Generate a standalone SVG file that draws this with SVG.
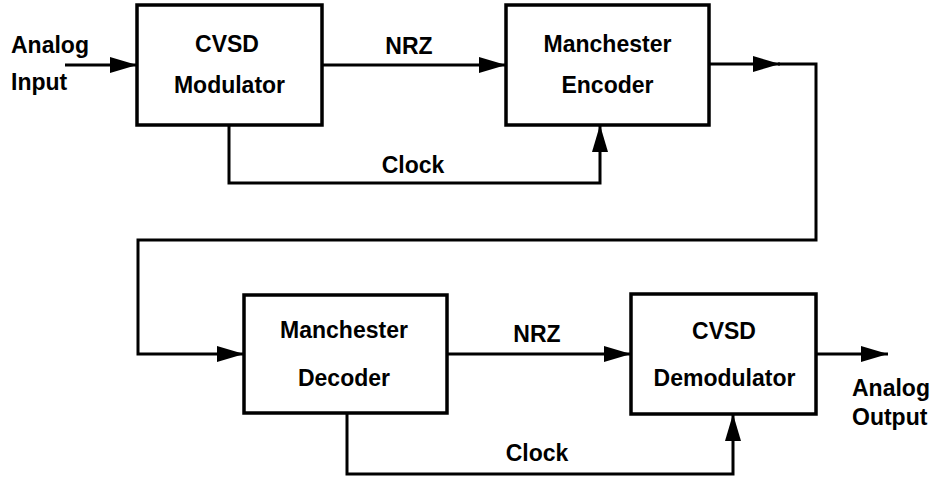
<svg xmlns="http://www.w3.org/2000/svg" width="936" height="479" viewBox="0 0 936 479">
<style>
.box{fill:#fff;stroke:#000;stroke-width:3.5}
.ln{fill:none;stroke:#000;stroke-width:3}
.t{font-family:"Liberation Sans",Arial,sans-serif;font-weight:bold;font-size:23px;fill:#000}
.c{text-anchor:middle}
</style>
<defs>
<marker id="ah" markerUnits="userSpaceOnUse" markerWidth="30" markerHeight="18" refX="27" refY="8" orient="auto">
<path d="M0,0 L27,8 L0,16 z" fill="#000"/>
</marker>
</defs>
<rect width="936" height="479" fill="#fff"/>
<g id="connectors">
<path class="ln" d="M65,65 H137" marker-end="url(#ah)"/>
<path class="ln" d="M322,65 H506" marker-end="url(#ah)"/>
<path class="ln" d="M229,125 V183 H600 V125" marker-end="url(#ah)"/>
<path class="ln" d="M709,64 H780" marker-end="url(#ah)"/>
<path class="ln" d="M778,64 H816 V240 H138 V354 H244" marker-end="url(#ah)"/>
<path class="ln" d="M447,354 H631" marker-end="url(#ah)"/>
<path class="ln" d="M347,413 V474 H733 V414" marker-end="url(#ah)"/>
<path class="ln" d="M816,354 H888" marker-end="url(#ah)"/>
<text class="t" x="11" y="53">Analog</text>
<text class="t" x="11" y="90">Input</text>
<text class="t c" x="409" y="54">NRZ</text>
<text class="t c" x="413" y="173">Clock</text>
<text class="t c" x="537" y="342">NRZ</text>
<text class="t c" x="537" y="461">Clock</text>
<text class="t" x="852" y="396">Analog</text>
<text class="t" x="852" y="425">Output</text>
</g>
<g id="cvsd-modulator">
<rect class="box" x="137" y="5" width="185" height="120"/>
<text class="t c" x="227" y="52">CVSD</text>
<text class="t c" x="229.5" y="93">Modulator</text>
</g>
<g id="manchester-encoder">
<rect class="box" x="506" y="5" width="203" height="120"/>
<text class="t c" x="607.5" y="52">Manchester</text>
<text class="t c" x="607.5" y="93">Encoder</text>
</g>
<g id="manchester-decoder">
<rect class="box" x="244" y="295" width="203" height="118"/>
<text class="t c" x="344" y="338">Manchester</text>
<text class="t c" x="344" y="386">Decoder</text>
</g>
<g id="cvsd-demodulator">
<rect class="box" x="631" y="294" width="185" height="120"/>
<text class="t c" x="724" y="339">CVSD</text>
<text class="t c" x="724.5" y="386">Demodulator</text>
</g>
</svg>
